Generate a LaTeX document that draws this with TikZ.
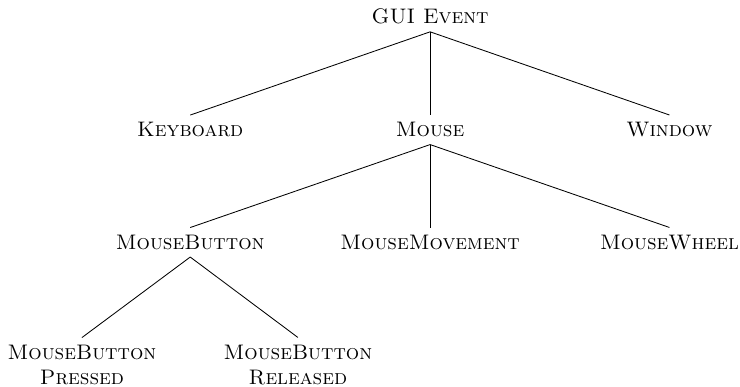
\documentclass[tikz,border=0pt]{standalone}
\begin{document}
\begin{tikzpicture}[cls/.style={font=\scshape, align=center}]
      % Fix the page size
      \useasboundingbox (0,0) rectangle (12.37,-6.455);

      % Root and first level
      \node[cls] (event) at (7.19,-0.28) {GUI Event};
      \node[cls] (keyboard) at (3.18,-2.17) {Keyboard};
      \node[cls] (mouse) at (7.19,-2.17) {Mouse};
      \node[cls] (window) at (11.19,-2.17) {Window};

      % Mouse events
      \node[cls] (button) at (3.18,-4.05) {MouseButton};
      \node[cls] (movement) at (7.19,-4.05) {MouseMovement};
      \node[cls] (wheel) at (11.19,-4.05) {MouseWheel};

      % Button events
      \node[cls] (pressed) at (1.37,-6.1) {MouseButton\\Pressed};
      \node[cls] (released) at (4.98,-6.1) {MouseButton\\Released};

      % Edges of the tree
      \draw (event.south) -- (keyboard.north);
      \draw (event.south) -- (mouse.north);
      \draw (event.south) -- (window.north);
      \draw (mouse.south) -- (button.north);
      \draw (mouse.south) -- (movement.north);
      \draw (mouse.south) -- (wheel.north);
      \draw (button.south) -- (pressed.north);
      \draw (button.south) -- (released.north);
    \end{tikzpicture}
\end{document}
